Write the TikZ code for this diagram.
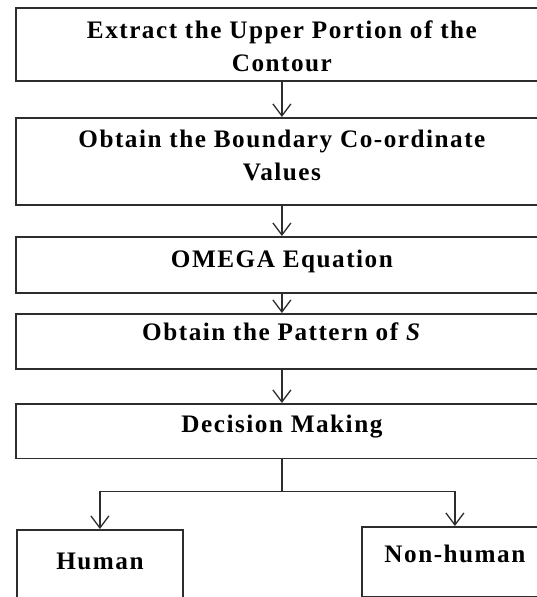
\documentclass[tikz,border=0pt]{standalone}
\usepackage{fontspec}
\setmainfont{Liberation Serif}[LetterSpace=6]
\usetikzlibrary{arrows.meta}
\definecolor{charcoal}{RGB}{45, 45, 45}

\tikzset{
    flowbox/.style   = {draw=charcoal, line width=1.8pt, inner sep=0pt, anchor=north west,
                        font=\bfseries\fontsize{25.2}{33}\selectfont},
    flowline/.style  = {draw=charcoal, line width=1.3pt},
    flowarrow/.style = {flowline, -{Straight Barb[length=12pt, width=18pt, line width=1.3pt]}}
}

\begin{document}
\begin{tikzpicture}[x={(1pt,0)}, y={(0,-1pt)}]
            % Frame to ensure alignment:
            \clip (0, 0) rectangle (537, 597);
            % Processing steps
            \node[flowbox, minimum width=532, text height=30.6, text depth=42.4] (extract)  at (15,   7)
                 {\begin{tabular}[t]{@{}c@{}}Extract the Upper Portion of the\\Contour\end{tabular}};
            \node[flowbox, minimum width=532, text height=30,   text depth=57]   (boundary) at (15, 117)
                 {\begin{tabular}[t]{@{}c@{}}Obtain the Boundary Co-ordinate\\Values\end{tabular}};
            \node[flowbox, minimum width=532, text height=31,   text depth=25]   (omega)    at (15, 236) {OMEGA Equation};
            \node[flowbox, minimum width=532, text height=27,   text depth=28]   (pattern)  at (15, 313) {Obtain the Pattern of \textit{S}};
            \node[flowbox, minimum width=532, text height=29,   text depth=25.5] (decide)   at (15, 403) {Decision Making};
            % Outcomes
            \node[flowbox, minimum width=166, text height=40,   text depth=60]   (human)    at (16, 529) {Human};
            \node[flowbox, minimum width=186, text height=36,   text depth=34]   (nonhuman) at (361, 526) {Non-human};
            % Connectors
            \draw[flowarrow] (extract.south)  -- (boundary.north);
            \draw[flowarrow] (boundary.south) -- (omega.north);
            \draw[flowarrow] (omega.south)    -- (pattern.north);
            \draw[flowarrow] (pattern.south)  -- (decide.north);
            \draw[flowline]  (decide.south)   -- ++(0, 32.5) coordinate (split);
            \draw[flowarrow] (split) -| (human.north);
            \draw[flowarrow] (split) -| (nonhuman.north);
\end{tikzpicture}
\end{document}
